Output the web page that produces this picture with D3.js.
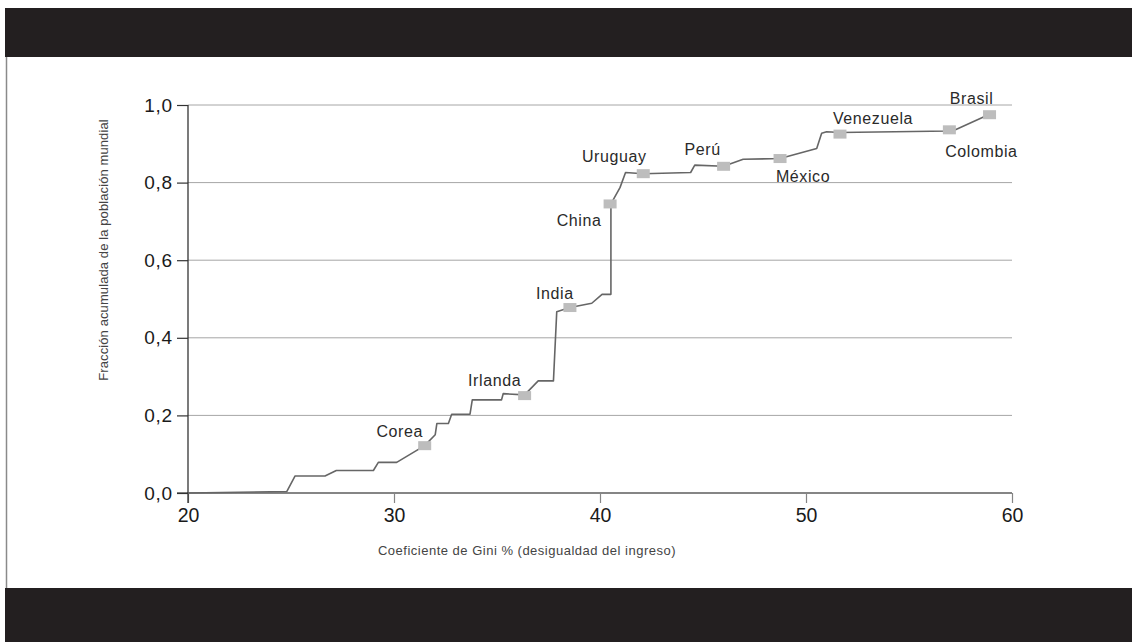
<!DOCTYPE html>
<html>
<head>
<meta charset="utf-8">
<script src="https://cdn.jsdelivr.net/npm/d3@7"></script>
<style>
    body { margin: 0; background: #fff; }
    text { font-family: "Liberation Sans", Arial, sans-serif; }
</style>
</head>
<body>
<div id="chart"></div>
<script>
// Gini coefficient (%) and cumulative share of world population
const giniValues = [20, 24.8, 25.2, 26.65, 27.2, 29.0, 29.24, 30.13, 31.49, 32.0, 32.08, 32.64, 32.8, 33.69,
    33.8, 35.22, 35.3, 36.34, 37.0, 37.74, 37.9, 38.54, 39.6, 40.1, 40.53, 40.53, 40.97, 41.24, 42.1,
    44.4, 44.6, 46.0, 46.95, 48.74, 50.52, 50.76, 51.0, 51.65, 56.96, 57.2, 58.91];
const popValues = [0.0, 0.004, 0.044, 0.044, 0.058, 0.058, 0.079, 0.079, 0.122, 0.150, 0.179, 0.179, 0.203, 0.203,
    0.240, 0.240, 0.256, 0.253, 0.289, 0.289, 0.467, 0.478, 0.489, 0.512, 0.512, 0.745, 0.787, 0.826, 0.823,
    0.826, 0.845, 0.842, 0.860, 0.862, 0.888, 0.927, 0.931, 0.929, 0.933, 0.935, 0.976];

// highlighted countries
const countries = ["Corea", "Irlanda", "India", "China", "Uruguay", "Perú", "México", "Venezuela", "Colombia", "Brasil"];
const countryGini = [31.49, 36.34, 38.54, 40.49, 42.1, 46.0, 48.74, 51.65, 56.96, 58.91];
const countryPop = [0.122, 0.251, 0.478, 0.745, 0.823, 0.842, 0.862, 0.925, 0.936, 0.975];

const xTicks = [20, 30, 40, 50, 60];
const yTicks = [0.0, 0.2, 0.4, 0.6, 0.8, 1.0];

// label placement relative to each marker (px)
const labelOffset = [[-25, -9], [-30, -10], [-15, -9], [-31, 22], [-29, -12], [-21, -11],
    [23, 23], [33, -10], [32, 27], [-18, -11]];

const w = 1132;
const h = 642;

const svg = d3.select("#chart").append("svg")
    .attr("width", w)
    .attr("height", h);

// frame: black bands and left rule
svg.append("rect").attr("x", 5).attr("y", 8).attr("width", w - 5).attr("height", 49).attr("fill", "#231f20");
svg.append("rect").attr("x", 5).attr("y", 588).attr("width", w - 5).attr("height", 54).attr("fill", "#231f20");
svg.append("line").attr("x1", 6.5).attr("x2", 6.5).attr("y1", 57).attr("y2", 588)
    .attr("stroke", "#8a8a8a").attr("stroke-width", 1.5);

const xScale = d3.scaleLinear().domain([20, 60]).range([188, 1012]);
const yScale = d3.scaleLinear().domain([0, 1]).range([493, 105]);

const commaFormat = d3.formatLocale({decimal: ",", thousands: ".", grouping: [3], currency: ["", ""]}).format(".1f");

// gridlines
svg.append("g")
    .selectAll("line")
    .data(yTicks.filter(d => d > 0))
    .enter()
    .append("line")
    .attr("x1", xScale(20))
    .attr("x2", xScale(60))
    .attr("y1", d => yScale(d))
    .attr("y2", d => yScale(d))
    .attr("stroke", "#a6a6a6")
    .attr("stroke-width", 1);

// X axis
const xAxis = svg.append("g")
    .attr("transform", "translate(0," + yScale(0) + ")")
    .call(d3.axisBottom(xScale).tickValues(xTicks).tickSize(10).tickPadding(5).tickSizeOuter(0));
xAxis.select(".domain").attr("stroke", "#858585").attr("stroke-width", 2.2)
    .attr("d", "M" + (xScale(20) - 11) + ",0H" + xScale(60));
xAxis.selectAll(".tick line").attr("stroke", "#858585").attr("stroke-width", 1.2);
xAxis.selectAll(".tick text")
    .style("font-size", "19.5px")
    .attr("fill", "#1a1a1a");

// Y axis
const yAxis = svg.append("g")
    .attr("transform", "translate(" + xScale(20) + ",0)")
    .call(d3.axisLeft(yScale).tickValues(yTicks).tickFormat(commaFormat).tickSize(11).tickPadding(4).tickSizeOuter(0));
yAxis.select(".domain").attr("stroke", "#222").attr("stroke-width", 1.2)
    .attr("d", "M0," + yScale(1) + "V" + (yScale(0) + 10));
yAxis.selectAll(".tick line").attr("stroke", "#333").attr("stroke-width", 1.2);
yAxis.selectAll(".tick text")
    .style("font-size", "19px")
    .style("letter-spacing", "0.8px")
    .attr("fill", "#1a1a1a");

// the curve
const line = d3.line()
    .x((d, i) => xScale(giniValues[i]))
    .y((d, i) => yScale(popValues[i]));

svg.append("path")
    .datum(giniValues)
    .attr("d", line)
    .attr("fill", "none")
    .attr("stroke", "#666")
    .attr("stroke-width", 1.6)
    .attr("stroke-linejoin", "round");

// country markers
svg.append("g")
    .selectAll("rect")
    .data(countries)
    .enter()
    .append("rect")
    .attr("x", (d, i) => xScale(countryGini[i]) - 6.5)
    .attr("y", (d, i) => yScale(countryPop[i]) - 4.5)
    .attr("width", 13)
    .attr("height", 9)
    .attr("fill", "#bdbdbd");

// country labels
svg.append("g")
    .selectAll("text")
    .data(countries)
    .enter()
    .append("text")
    .attr("text-anchor", "middle")
    .attr("x", (d, i) => xScale(countryGini[i]) + labelOffset[i][0])
    .attr("y", (d, i) => yScale(countryPop[i]) + labelOffset[i][1])
    .attr("fill", "#2a2a2a")
    .style("font-size", "16px")
    .style("letter-spacing", "0.6px")
    .text(d => d);

// X Axis label
svg.append("text")
    .attr("text-anchor", "middle")
    .attr("x", 527)
    .attr("y", 555)
    .attr("fill", "#444")
    .style("font-size", "13px")
    .style("letter-spacing", "0.5px")
    .text("Coeficiente de Gini % (desigualdad del ingreso)");

// Y Axis label
svg.append("text")
    .attr("text-anchor", "middle")
    .attr("transform", "translate(108,250) rotate(-90)")
    .attr("fill", "#444")
    .style("font-size", "13px")
    .style("letter-spacing", "0.1px")
    .text("Fracción acumulada de la población mundial");
</script>
</body>
</html>
